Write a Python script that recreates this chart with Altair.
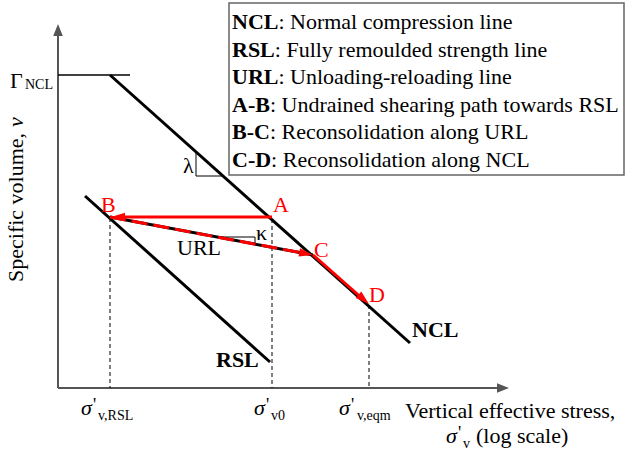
import altair as alt
import pandas as pd

W, H = 625, 456
FONT = "Liberation Serif, Times New Roman, serif"
RED = "#ff0000"
GRAY = "#555555"

# ---- schematic geometry (figure frame units: x = log-stress, y = inverted specific volume) ----
axis_origin = (58, 388)
y_axis_top = 31
x_axis_right = 501

ncl_pts = [(110, 75), (410, 343)]
rsl_pts = [(85, 196), (270, 362)]
url_pts = [(110, 217), (313, 255)]
gamma_line = [(58, 75), (130, 75)]

pt_A = (272, 217)
pt_B = (110, 217)
pt_C = (313, 255)
pt_D = (369, 304)

lambda_tri = [(196, 152), (196, 176), (223, 176)]
kappa_tri = [(215, 237), (255, 237), (255, 244)]

dash_x = [110, 272, 369]
dash_top = [218, 219, 305]

legend_bold = ["NCL", "RSL", "URL", "A-B", "B-C", "C-D"]
legend_rest = [": Normal compression line", ": Fully remoulded strength line",
               ": Unloading-reloading line", ": Undrained shearing path towards RSL",
               ": Reconsolidation along URL", ": Reconsolidation along NCL"]
legend_offset = [46.4, 42.8, 46.4, 37.9, 37.9, 39.1]

xs = alt.Scale(domain=[0, W], nice=False, zero=False)
ys = alt.Scale(domain=[H, 0], nice=False, zero=False)


def seg_df(segs):
    return pd.DataFrame([{"x": a[0], "y": a[1], "x2": b[0], "y2": b[1]} for a, b in segs])


def rules(segs, **kw):
    return alt.Chart(seg_df(segs)).mark_rule(**kw).encode(
        x=alt.X("x:Q", scale=xs, axis=None),
        y=alt.Y("y:Q", scale=ys, axis=None),
        x2="x2:Q", y2="y2:Q")


def texts(items, **kw):
    df = pd.DataFrame([{"x": x, "y": y, "t": t} for x, y, t in items])
    base = dict(font=FONT, fontSize=22, align="left", baseline="alphabetic", color="black")
    base.update(kw)
    return alt.Chart(df).mark_text(**base).encode(
        x=alt.X("x:Q", scale=xs, axis=None),
        y=alt.Y("y:Q", scale=ys, axis=None),
        text="t:N")


def heads(items, color, path, size):
    df = pd.DataFrame([{"x": x, "y": y, "a": a} for x, y, a in items])
    return alt.Chart(df).mark_point(shape=path, filled=True, size=size, opacity=1,
                                    color=color, strokeWidth=0).encode(
        x=alt.X("x:Q", scale=xs, axis=None),
        y=alt.Y("y:Q", scale=ys, axis=None),
        angle=alt.Angle("a:Q", scale=None))


ox, oy = axis_origin
layers = []

# legend box
layers.append(alt.Chart(pd.DataFrame([{"x": 229, "y": 3, "x2": 624, "y2": 175}])).mark_rect(
    fill="white", stroke="#666666", strokeWidth=1.5).encode(
    x=alt.X("x:Q", scale=xs, axis=None), y=alt.Y("y:Q", scale=ys, axis=None),
    x2="x2:Q", y2="y2:Q"))

# axes
layers.append(rules([((ox, oy), (ox, y_axis_top)), ((ox, oy), (x_axis_right, oy))],
                    color=GRAY, strokeWidth=2))
layers.append(heads([(ox, 24, 270), (509, oy, 0)], GRAY, "M0,0L-2,-0.8L-2,0.8Z", 144))

# dashed projections
layers.append(rules([((x, t), (x, oy)) for x, t in zip(dash_x, dash_top)],
                    color="black", strokeWidth=1, strokeDash=[4, 3]))

# thin helpers
layers.append(rules([tuple(gamma_line)], color="black", strokeWidth=1.5))
layers.append(rules([(lambda_tri[0], lambda_tri[1]), (lambda_tri[1], lambda_tri[2]),
                     (kappa_tri[0], kappa_tri[1]), (kappa_tri[1], kappa_tri[2])],
                    color="black", strokeWidth=1))

# main lines
layers.append(rules([tuple(ncl_pts), tuple(rsl_pts), tuple(url_pts)],
                    color="black", strokeWidth=3))

# red paths
layers.append(rules([(pt_A, (pt_B[0] + 8, pt_B[1])), (pt_C, (pt_D[0] - 5, pt_D[1] - 4))],
                    color=RED, strokeWidth=3))
layers.append(rules([(pt_B, (pt_C[0] - 8, pt_C[1] - 1.5))],
                    color=RED, strokeWidth=3, strokeDash=[16, 6]))
layers.append(heads([(pt_B[0] + 1, pt_B[1], 180), (pt_C[0], pt_C[1], 10.6),
                     (pt_D[0], pt_D[1], 41.2)], RED, "M0,0L-2,-0.6L-2,0.6Z", 196))

# point labels
layers.append(texts([(273, 212, "A"), (101, 212, "B"), (314, 257, "C"), (369, 302, "D")],
                    color=RED))

# line labels
layers.append(texts([(177, 255, "URL"), (183, 173, "λ"), (256, 240, "κ"), (10, 88, "Γ")]))
layers.append(texts([(216, 367, "RSL"), (412, 337, "NCL")], fontWeight="bold"))
layers.append(texts([(25, 89, "NCL")], fontSize=14))

# x tick labels (sigma italic, prime upright)
layers.append(texts([(81, 415, "σ"), (254, 415, "σ"), (339, 415, "σ")], fontStyle="italic"))
layers.append(texts([(93, 411, "'"), (266, 411, "'"), (351, 411, "'")], fontSize=18))
layers.append(texts([(98, 420, "v,RSL"), (271, 420, "v0"), (357, 420, "v,eqm")], fontSize=14))

# x title
layers.append(texts([(405, 418, "Vertical effective stress,"), (476, 443, "(log scale)")]))
layers.append(texts([(446, 443, "σ")], fontStyle="italic"))
layers.append(texts([(458, 439, "'")], fontSize=18))
layers.append(texts([(463, 448, "v")], fontSize=14))

# y title (rotated)
layers.append(texts([(23, 282, "Specific volume, ")], angle=270))
layers.append(texts([(23, 127, "v")], angle=270, fontStyle="italic"))

# legend text
bold_items, rest_items = [], []
for i, (b, r, off) in enumerate(zip(legend_bold, legend_rest, legend_offset)):
    yb = 29 + 27.5 * i
    bold_items.append((232, yb, b))
    rest_items.append((232 + off, yb, r))
layers.append(texts(bold_items, fontWeight="bold"))
layers.append(texts(rest_items))

chart = alt.layer(*layers).properties(
    width=W, height=H, padding=0, autosize=alt.AutoSizeParams(type="none"),
    background="white"
).configure_view(stroke=None)

chart.save("out.html", embed_options={"renderer": "svg", "actions": False})
